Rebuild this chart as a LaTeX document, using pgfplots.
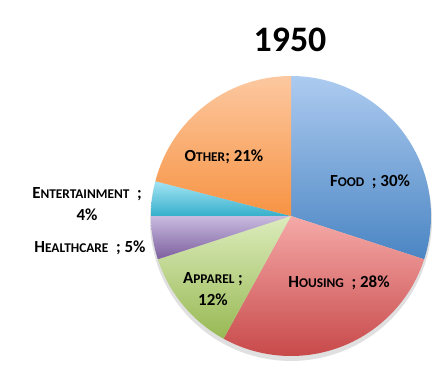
\documentclass[border=0pt]{standalone}
\usepackage{pgfplots}
\pgfplotsset{compat=1.18}
\usepackage{fontspec}
\setmainfont{Carlito}
\definecolor{foodT}{HTML}{ADCBF0}
\definecolor{foodB}{HTML}{4A85C3}
\definecolor{housT}{HTML}{F5AAA8}
\definecolor{housB}{HTML}{C8494A}
\definecolor{appT}{HTML}{DCECBC}
\definecolor{appB}{HTML}{98B954}
\definecolor{hlthT}{HTML}{C9BBE0}
\definecolor{hlthB}{HTML}{7C5F9E}
\definecolor{entT}{HTML}{A4E4F4}
\definecolor{entB}{HTML}{36AFCB}
\definecolor{othT}{HTML}{FCC8A0}
\definecolor{othB}{HTML}{F79343}
\newcommand\fsc[2]{#1{\fontsize{13.4}{14}\selectfont #2}}
\tikzset{lbl/.style={font=\bfseries\fontsize{17}{21.5}\selectfont,align=center,inner sep=0pt}}
% data (percent)
\def\vFood{30}
\def\vHousing{28}
\def\vApparel{12}
\def\vHealth{5}
\def\vEnt{4}
\def\vOther{21}
\begin{document}
\begin{tikzpicture}
\useasboundingbox (0,0) rectangle (448bp,370bp);
\pgfmathsetmacro\aA{90}
\pgfmathsetmacro\aB{\aA-3.6*\vFood}
\pgfmathsetmacro\aC{\aB-3.6*\vHousing}
\pgfmathsetmacro\aD{\aC-3.6*\vApparel}
\pgfmathsetmacro\aE{\aD-3.6*\vHealth}
\pgfmathsetmacro\aF{\aE-3.6*\vEnt}
\pgfmathsetmacro\aG{\aF-3.6*\vOther}
\begin{axis}[at={(0,0)},anchor=south west,scale only axis,
  width=448bp,height=370bp,xmin=0,xmax=448,ymin=0,ymax=370,
  hide axis,clip=false]
% shadow
\addplot[draw=none,fill=black,opacity=0.12,domain=0:360,samples=120]
  ({291+141*cos(x)},{150+141*sin(x)}) -- cycle;
\addplot[draw=none,top color=foodT,bottom color=foodB,domain=\aB:\aA,samples=60]
  ({291+140*cos(x)},{154+140*sin(x)}) -- (axis cs:291,154) -- cycle;
\addplot[draw=none,top color=housT,bottom color=housB,domain=\aC:\aB,samples=60]
  ({291+140*cos(x)},{154+140*sin(x)}) -- (axis cs:291,154) -- cycle;
\addplot[draw=none,top color=appT,bottom color=appB,domain=\aD:\aC,samples=40]
  ({291+140*cos(x)},{154+140*sin(x)}) -- (axis cs:291,154) -- cycle;
\addplot[draw=none,top color=hlthT,bottom color=hlthB,domain=\aE:\aD,samples=20]
  ({291+140*cos(x)},{154+140*sin(x)}) -- (axis cs:291,154) -- cycle;
\addplot[draw=none,top color=entT,bottom color=entB,domain=\aF:\aE,samples=20]
  ({291+140*cos(x)},{154+140*sin(x)}) -- (axis cs:291,154) -- cycle;
\addplot[draw=none,top color=othT,bottom color=othB,domain=\aG:\aF,samples=50]
  ({291+140*cos(x)},{154+140*sin(x)}) -- (axis cs:291,154) -- cycle;
\node[font=\bfseries\fontsize{36}{40}\selectfont] at (axis cs:290,330) {1950};
\node[lbl] at (axis cs:370,188) {\fsc{F}{OOD}\ \ ; 30\%};
\node[lbl] at (axis cs:224,213) {\fsc{O}{THER}; 21\%};
\node[lbl] at (axis cs:339,87) {\fsc{H}{OUSING}\ \ ; 28\%};
\node[lbl] at (axis cs:213,81) {\fsc{A}{PPAREL} ;\\12\%};
\node[lbl] at (axis cs:90,122) {\fsc{H}{EALTHCARE}\ \ ; 5\%};
\node[lbl] at (axis cs:87,166) {\fsc{E}{NTERTAINMENT}\ \ ;\\4\%};
\end{axis}
\end{tikzpicture}
\end{document}
